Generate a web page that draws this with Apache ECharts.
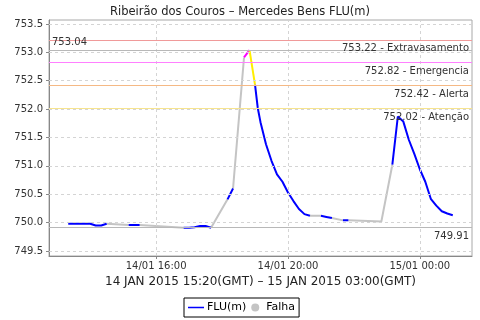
<!DOCTYPE html>
<html><head><meta charset="utf-8">
<script src="https://cdn.jsdelivr.net/npm/echarts@6/dist/echarts.min.js"></script>
<style>html,body{margin:0;padding:0;background:#fff}#c{width:480px;height:320px}</style>
</head><body><div id="c"></div>
<script>
// ---- data ----
const times = ['14/01 13:20','14/01 13:30','14/01 13:40','14/01 13:50','14/01 14:00','14/01 14:10','14/01 14:20','14/01 14:30',
  '14/01 15:10','14/01 15:20','14/01 15:30',
  '14/01 16:50','14/01 17:00','14/01 17:10','14/01 17:20','14/01 17:30','14/01 17:40',
  '14/01 18:10','14/01 18:20','14/01 18:40','14/01 18:50','14/01 19:00','14/01 19:05','14/01 19:10','14/01 19:20','14/01 19:30',
  '14/01 19:40','14/01 19:50','14/01 20:00','14/01 20:10','14/01 20:20','14/01 20:30','14/01 20:40',
  '14/01 21:00','14/01 21:10','14/01 21:20','14/01 21:40','14/01 21:50','14/01 22:50',
  '14/01 23:10','14/01 23:20','14/01 23:30','14/01 23:40','14/01 23:50','15/01 00:00','15/01 00:10','15/01 00:20',
  '15/01 00:30','15/01 00:40','15/01 00:50','15/01 01:00'];
const levels = [749.98,749.98,749.98,749.98,749.98,749.95,749.95,749.98,
  749.96,749.96,749.96,
  749.91,749.91,749.92,749.94,749.94,749.91,
  750.41,750.60,752.91,753.04,752.43,752.02,751.77,751.38,751.09,
  750.85,750.72,750.53,750.38,750.24,750.15,750.12,
  750.12,750.10,750.08,750.04,750.04,750.02,
  751.02,751.87,751.78,751.46,751.21,750.94,750.72,750.42,
  750.30,750.20,750.16,750.13];
// class of the segment that ends at each point: ok = FLU, falha = failure, emerg / alert = coloured stretch
const segClass = ['','ok','ok','ok','ok','ok','ok','ok',
  'falha','ok','ok',
  'falha','ok','ok','ok','ok','ok',
  'falha','ok','falha','emerg','alert','ok','ok','ok','ok',
  'ok','ok','ok','ok','ok','ok','ok',
  'falha','ok','ok','falha','ok','falha',
  'falha','ok','ok','ok','ok','ok','ok','ok',
  'ok','ok','ok','ok'];
const xTickLabels = ['14/01 16:00','14/01 20:00','15/01 00:00'];
const yTickValues = [749.5,750.0,750.5,751.0,751.5,752.0,752.5,753.0,753.5];
const limitNames = ['Extravasamento','Emergencia','Alerta','Atenção'];
const limitValues = [753.22,752.82,752.42,752.02];
const titleText = 'Ribeirão dos Couros – Mercedes Bens FLU(m)';
const periodLabel = '14 JAN 2015 15:20(GMT) – 15 JAN 2015 03:00(GMT)';

// ---- helpers ----
function toMin(s){
  const [d, t] = s.split(' ');
  const day = parseInt(d.split('/')[0], 10);
  const [h, m] = t.split(':').map(Number);
  return (day - 14) * 1440 + h * 60 + m;
}
function fmtMin(v){
  const day = 14 + Math.floor(v / 1440);
  const r = ((v % 1440) + 1440) % 1440;
  const p = n => String(n).padStart(2, '0');
  return p(day) + '/01 ' + p(Math.floor(r / 60)) + ':' + p(r % 60);
}
const xs = times.map(toMin);
function build(cls){
  const out = [];
  for (let i = 1; i < xs.length; i++){
    if (segClass[i] !== cls) continue;
    if (segClass[i-1] !== cls || i === 1){
      if (out.length) out.push(null);
      out.push([xs[i-1], levels[i-1]]);
    }
    out.push([xs[i], levels[i]]);
  }
  return out;
}
const maxLevel = Math.max(...levels);
const minLevel = Math.min(...levels);
const xTicks = xTickLabels.map(toMin);
const FONT = 'DejaVu Sans';
const limitColors = ['#f09a9a', '#ff80ff', '#f5b985', '#f7e48e'];
const lineIcon = 'path://M0,0L0.1,0L0.1,0.1Z M0,3.3L16,3.3L16,4.7L0,4.7Z M16,8L15.9,8L15.9,7.9Z';

const chart = echarts.init(document.getElementById('c'), null, {renderer: 'canvas'});
chart.setOption({
  animation: false,
  backgroundColor: '#fff',
  title: {text: titleText, left: 'center', top: 1, textStyle: {fontFamily: FONT, fontSize: 11.5, fontWeight: 'normal', color: '#222'}},
  grid: {left: 49, right: 8, top: 20, bottom: 64, show: true, borderColor: '#a8a8a8', borderWidth: 1},
  legend: {
    left: 184, top: 298, orient: 'horizontal',
    borderColor: '#000', borderWidth: 1, padding: [4, 4, 4, 4], itemGap: 5, itemWidth: 16, itemHeight: 8,
    textStyle: {fontFamily: FONT, fontSize: 11, color: '#000', padding: [0, 0, 0, -2]},
    data: [{name: 'FLU(m)', icon: lineIcon}, {name: 'Falha', icon: 'circle'}]
  },
  xAxis: {
    type: 'value', min: 765, max: 1535,
    name: periodLabel, nameLocation: 'middle', nameGap: 20,
    nameTextStyle: {fontFamily: FONT, fontSize: 12, color: '#222'},
    axisLine: {show: true, lineStyle: {color: '#888'}},
    axisTick: {show: true, length: 3, customValues: xTicks, lineStyle: {color: '#888'}},
    axisLabel: {customValues: xTicks, formatter: fmtMin, fontFamily: FONT, fontSize: 10, color: '#333', margin: 5},
    splitLine: {show: false}
  },
  yAxis: {
    type: 'value', min: 749.412, max: 753.57,
    axisLine: {show: true, lineStyle: {color: '#888'}},
    axisTick: {show: true, length: 3, customValues: yTickValues, lineStyle: {color: '#888'}},
    axisLabel: {customValues: yTickValues, formatter: v => v.toFixed(1), fontFamily: FONT, fontSize: 10, color: '#333', margin: 6},
    splitLine: {show: false}
  },
  series: [
    {
      name: 'grid', type: 'line', data: [], silent: true, z: 1,
      markLine: {
        silent: true, symbol: 'none', animation: false,
        label: {show: false},
        lineStyle: {color: '#d4d4d4', type: [3, 3], width: 1},
        data: yTickValues.map(v => ({yAxis: v})).concat(xTicks.map(v => ({xAxis: v})))
      }
    },
    {
      name: 'limits', type: 'line', data: [], silent: true, z: 2,
      markLine: {
        silent: true, symbol: 'none', animation: false,
        data: limitValues.map((v, i) => ({
          yAxis: v,
          lineStyle: {color: limitColors[i], type: 'solid', width: 1},
          label: {show: true, position: 'insideEndBottom', distance: [3, 4], formatter: v.toFixed(2) + ' - ' + limitNames[i],
                  fontFamily: FONT, fontSize: 10, color: '#333'}
        })).concat([
          {yAxis: maxLevel, lineStyle: {color: '#b8b8b8', type: 'solid', width: 1},
           label: {show: true, position: 'insideStartTop', distance: [3, 3], formatter: maxLevel.toFixed(2), fontFamily: FONT, fontSize: 10, color: '#333'}},
          {yAxis: minLevel, lineStyle: {color: '#b8b8b8', type: 'solid', width: 1},
           label: {show: true, position: 'insideEndBottom', distance: [3, 4], formatter: minLevel.toFixed(2), fontFamily: FONT, fontSize: 10, color: '#333'}}
        ])
      }
    },
    {name: 'Falha', type: 'line', data: build('falha'), symbol: 'none', connectNulls: false, z: 3,
     itemStyle: {color: '#c4c4c4'}, lineStyle: {color: '#c4c4c4', width: 2}},
    {name: 'FLU(m)', type: 'line', data: build('ok'), symbol: 'none', connectNulls: false, z: 4,
     itemStyle: {color: '#0000ff'}, lineStyle: {color: '#0000ff', width: 2}},
    {name: 'emerg', type: 'line', data: build('emerg'), symbol: 'none', z: 4, lineStyle: {color: '#ff00ff', width: 2}},
    {name: 'alert', type: 'line', data: build('alert'), symbol: 'none', z: 4, lineStyle: {color: '#ffee00', width: 2}}
  ]
});
</script>
</body></html>
